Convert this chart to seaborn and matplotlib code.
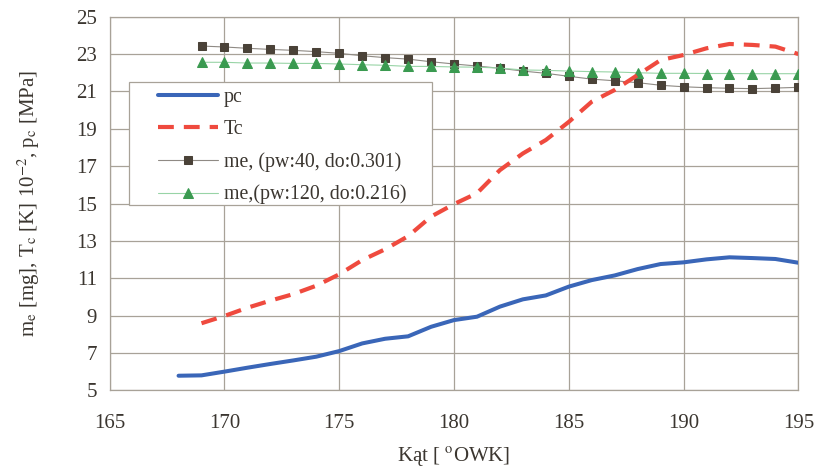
import matplotlib
matplotlib.use("Agg")
import matplotlib.pyplot as plt
from matplotlib.legend_handler import HandlerLine2D
from matplotlib.patches import Rectangle
import seaborn as sns

# crank angle [deg OWK]
angle_pc = [168, 169, 170, 171, 172, 173, 174, 175, 176, 177, 178, 179, 180, 181,
            182, 183, 184, 185, 186, 187, 188, 189, 190, 191, 192, 193, 194, 195]
pc = [5.78, 5.8, 6.0, 6.21, 6.41, 6.6, 6.8, 7.1, 7.51, 7.76, 7.89, 8.4, 8.76, 8.94,
      9.48, 9.87, 10.08, 10.55, 10.9, 11.15, 11.49, 11.76, 11.85, 12.01, 12.12,
      12.08, 12.03, 11.83]

angle = [169, 170, 171, 172, 173, 174, 175, 176, 177, 178, 179, 180, 181, 182,
         183, 184, 185, 186, 187, 188, 189, 190, 191, 192, 193, 194, 195]
tc = [8.59, 8.98, 9.42, 9.8, 10.15, 10.6, 11.21, 11.97, 12.55, 13.25, 14.3, 14.97,
      15.55, 16.79, 17.68, 18.4, 19.37, 20.45, 21.08, 21.88, 22.68, 22.95, 23.31,
      23.54, 23.49, 23.4, 23.0]
me_40 = [23.43, 23.38, 23.31, 23.25, 23.2, 23.13, 23.04, 22.91, 22.81, 22.73,
         22.59, 22.47, 22.36, 22.24, 22.09, 21.97, 21.81, 21.66, 21.57, 21.47,
         21.33, 21.25, 21.2, 21.17, 21.15, 21.18, 21.22]
me_120 = [22.56, 22.56, 22.52, 22.52, 22.5, 22.5, 22.47, 22.43, 22.4, 22.34, 22.34,
          22.31, 22.3, 22.25, 22.15, 22.13, 22.09, 22.06, 22.04, 22.0, 21.97, 21.97,
          21.96, 21.96, 21.95, 21.95, 21.95]

x_ticks = [165, 170, 175, 180, 185, 190, 195]
y_ticks = [5, 7, 9, 11, 13, 15, 17, 19, 21, 23, 25]

sns.set_style("white")
plt.rcParams["font.family"] = ["Liberation Serif", "DejaVu Serif"]
plt.rcParams["mathtext.fontset"] = "stix"

TEXT = "#3b3630"
GRID = "#a8a298"

fig = plt.figure(figsize=(8.21, 4.75), dpi=100)
ax = fig.add_axes([0.1336, 0.1783, 0.8388, 0.7865])

sns.lineplot(x=angle_pc, y=pc, ax=ax, color="#3a66b8", linewidth=2.9,
             label="pc", zorder=4)
sns.lineplot(x=angle, y=tc, ax=ax, color="#ef4a3e", linewidth=3.0,
             linestyle=(0, (3.8, 2.4)), label="Tc", zorder=4)
sns.lineplot(x=angle, y=me_40, ax=ax, color="#8f8a84", linewidth=0.8,
             marker="s", markersize=6.3, markerfacecolor="#4a4238",
             markeredgecolor="#4a4238", label="me, (pw:40, do:0.301)", zorder=3)
sns.lineplot(x=angle, y=me_120, ax=ax, color="#98d4a6", linewidth=0.8,
             marker="^", markersize=7.2, markerfacecolor="#3a9a50",
             markeredgecolor="#3a9a50", label="me,(pw:120, do:0.216)", zorder=3)

ax.set_xlim(165, 195)
ax.set_ylim(5, 25)
ax.set_xticks(x_ticks)
ax.set_yticks(y_ticks)
ax.grid(True, color=GRID, linewidth=0.9)
ax.set_axisbelow(True)
for s in ax.spines.values():
    s.set_color(GRID)
    s.set_linewidth(0.9)
ax.tick_params(axis="both", which="major", length=5, width=0.9, color=GRID,
               labelsize=15, labelcolor=TEXT, direction="out")
ax.tick_params(axis="x", pad=12)
ax.tick_params(axis="y", pad=4)

ax.set_xlabel(r"Kąt [ $^{\mathrm{o}}$OWK]", fontsize=15, color=TEXT, labelpad=9)
ax.set_ylabel(r"m$_{\mathrm{e}}$ [mg], T$_{\mathrm{c}}$ [K] 10$^{-2}$, p$_{\mathrm{c}}$ [MPa]",
              fontsize=15, color=TEXT, labelpad=25)

# legend box
box = Rectangle((0.0285, 0.496), 0.4391, 0.330, transform=ax.transAxes,
                facecolor="white", edgecolor=GRID, linewidth=0.9, zorder=5)
ax.add_patch(box)
hmap = {h: HandlerLine2D(xpad=1.1) for h in ax.get_lines()}
leg = ax.legend(loc="upper left", bbox_to_anchor=(0.0387, 0.810), borderaxespad=0,
                frameon=False, fontsize=14.3, handlelength=4.1, handler_map=hmap,
                labelspacing=0.66, borderpad=0, handletextpad=0.3)
leg.set_zorder(6)
for t in leg.get_texts():
    t.set_color(TEXT)

fig.savefig("out.png", dpi=100)
